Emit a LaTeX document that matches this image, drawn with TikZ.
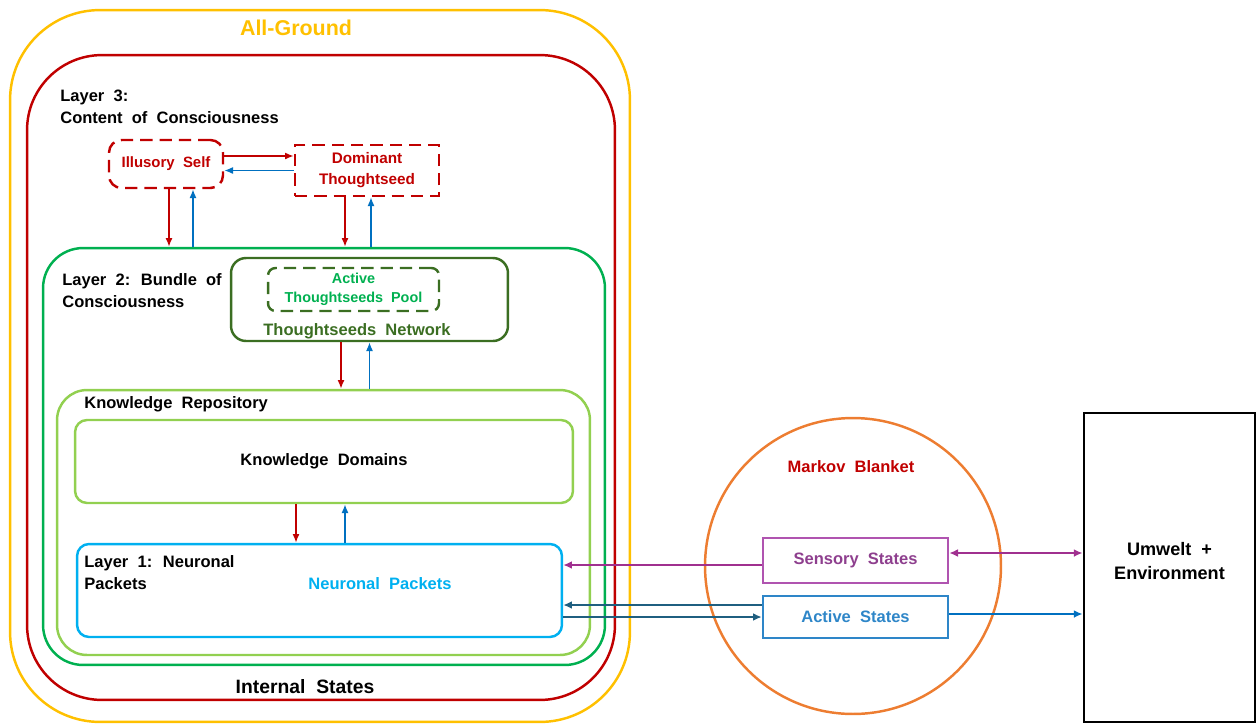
\documentclass[tikz,border=0pt]{standalone}
\usepackage{fontspec}
\setmainfont{Liberation Sans}[WordSpace=2]
\usetikzlibrary{arrows.meta,positioning,calc}
\definecolor{agyellow}{HTML}{FFC000}
\definecolor{isred}{HTML}{C00000}
\definecolor{bcgreen}{HTML}{00B050}
\definecolor{tndark}{HTML}{3B6E22}
\definecolor{krgreen}{HTML}{92D050}
\definecolor{npcyan}{HTML}{00B0F0}
\definecolor{mborange}{HTML}{ED7D31}
\definecolor{sspurple}{HTML}{B054B0}
\definecolor{sstext}{HTML}{8E3F8E}
\definecolor{sarrow}{HTML}{A0308F}
\definecolor{asblue}{HTML}{2E86C8}
\definecolor{upblue}{HTML}{0070C0}
\definecolor{teal}{HTML}{1F5F80}
\begin{document}
\begin{tikzpicture}[
    x=0.02cm, y=-0.02cm,
    font=\fontsize{9.4}{12.5}\selectfont\bfseries,
    layer/.style={draw, line width=1.4pt, inner sep=0pt, rounded corners=#1},
    dashbox/.style={draw, dashed, dash pattern=on 7pt off 4pt, line width=1.4pt, inner sep=0pt, align=center},
    statebox/.style={draw, line width=1.4pt, inner sep=0pt, minimum width=3.7cm},
    label/.style={inner sep=0pt, align=left, anchor=west},
    down/.style={-{Latex[length=5pt,width=4pt]}, isred, line width=0.9pt},
    up/.style={-{Latex[length=5pt,width=4pt]}, upblue, line width=0.9pt},
    link/.style={-{Latex[length=5pt,width=4.5pt]}, line width=1.3pt}
]
\useasboundingbox (0,0) rectangle (1257,724);

% nested layers
\node[layer=1.8cm, draw=agyellow, minimum width=12.4cm, minimum height=14.24cm] (ground) at (320,366) {};
\node[layer=1.5cm, draw=isred, minimum width=11.76cm, minimum height=12.9cm] (internal) at (321,377.5) {};
\node[layer=0.8cm, draw=bcgreen, minimum width=11.24cm, minimum height=8.34cm] (layer2) at (324,456.5) {};
\node[layer=0.6cm, draw=krgreen, minimum width=10.66cm, minimum height=5.3cm] (repo) at (323.5,522.5) {};
\node[layer=0.24cm, draw=krgreen, minimum width=9.96cm, minimum height=1.66cm] (domains) at (324,461.5) {Knowledge Domains};
\node[layer=0.24cm, draw=npcyan, minimum width=9.7cm, minimum height=1.86cm] (layer1) at (319.5,590.5) {};
\node[layer=0.3cm, draw=tndark, minimum width=5.54cm, minimum height=1.66cm] (network) at (369.5,299.5) {};
\node[dashbox, draw=tndark, text=bcgreen, rounded corners=0.15cm, minimum width=3.42cm, minimum height=0.86cm,
      font=\fontsize{8.2}{11}\selectfont\bfseries] (pool) at (353.5,289.5) {Active\\Thoughtseeds Pool};

% layer 3 contents
\node[dashbox, draw=isred, text=isred, rounded corners=0.25cm, minimum width=2.28cm, minimum height=0.96cm,
      font=\fontsize{8.5}{11}\selectfont\bfseries] (illusory) at (166,164) {Illusory Self};
\node[dashbox, draw=isred, text=isred, minimum width=2.88cm, minimum height=1.02cm,
      font=\fontsize{8.7}{12}\selectfont\bfseries] (dominant) at (367,170.5) {Dominant\\Thoughtseed};

% labels
\node[text=agyellow, font=\fontsize{12.2}{15}\selectfont\bfseries] (groundlbl) at (296,28) {All-Ground};
\node[label] (l3lbl) at (60,107) {Layer 3:\\Content of Consciousness};
\node[label] (l2lbl) at (62,291) {Layer 2: Bundle of\\Consciousness};
\node[text=tndark] (netlbl) at (357,331) {Thoughtseeds Network};
\node[label] (repolbl) at (84,404) {Knowledge Repository};
\node[label] (l1lbl) at (84,573) {Layer 1: Neuronal\\Packets};
\node[text=npcyan] (nplbl) at (380,584) {Neuronal Packets};
\node[font=\fontsize{11}{14}\selectfont\bfseries] (intlbl) at (305,687) {Internal States};

% Markov blanket and environment
\node[circle, draw=mborange, line width=1.4pt, minimum size=5.92cm, inner sep=0pt] (markov) at (853,566) {};
\node[text=isred] (mblbl) at (851,467) {Markov Blanket};
\node[statebox, draw=sspurple, text=sstext, minimum height=0.9cm] (sensory) at (855.5,560.5) {Sensory States};
\node[statebox, draw=asblue, text=asblue, minimum height=0.84cm] (active) at (855.5,617) {Active States};
\node[draw, line width=1.6pt, inner sep=0pt, minimum width=3.42cm, minimum height=6.18cm] (umwelt) at (1169.5,567.5) {};
\node[align=center, font=\fontsize{10.3}{13.6}\selectfont\bfseries] (umweltlbl) at ([yshift=0.13cm]umwelt.center) {Umwelt +\\Environment};

% layer 3 links
\draw[down] ([yshift=0.16cm]illusory.east) -- ([yshift=0.16cm]illusory.east -| dominant.west);
\draw[up] (dominant.west) -- (dominant.west -| illusory.east);
\draw[down] ([xshift=0.06cm]illusory.south) -- ([xshift=0.06cm]illusory.south |- layer2.north);
\draw[up] ([xshift=0.54cm]illusory.south |- layer2.north) -- ([xshift=0.54cm]illusory.south);
\draw[down] ([xshift=-0.44cm]dominant.south) -- ([xshift=-0.44cm]dominant.south |- layer2.north);
\draw[up] ([xshift=0.08cm]dominant.south |- layer2.north) -- ([xshift=0.08cm]dominant.south);

% inner links
\draw[down] ([xshift=-0.57cm]network.south) -- ([xshift=-0.57cm]network.south |- repo.north);
\draw[up] (network.south |- repo.north) -- (network.south);
\draw[down] ([xshift=-0.56cm]domains.south) -- ([xshift=-0.56cm]domains.south |- layer1.north);
\draw[up] ([xshift=0.42cm]domains.south |- layer1.north) -- ([xshift=0.42cm]domains.south);

% blanket links
\draw[link, sarrow] ([yshift=-0.09cm]sensory.west) -- ([yshift=-0.09cm]sensory.west -| layer1.east);
\draw[link, sarrow, {Latex[length=5pt,width=4.5pt]}-{Latex[length=5pt,width=4.5pt]}] ([yshift=0.15cm]sensory.east) -- ([yshift=0.15cm]sensory.east -| umwelt.west);
\draw[link, teal] ([yshift=0.24cm]active.west) -- ([yshift=0.24cm]active.west -| layer1.east);
\draw[link, teal] (active.west -| layer1.east) -- (active.west);
\draw[link, upblue] ([yshift=0.06cm]active.east) -- ([yshift=0.06cm]active.east -| umwelt.west);
\end{tikzpicture}
\end{document}
